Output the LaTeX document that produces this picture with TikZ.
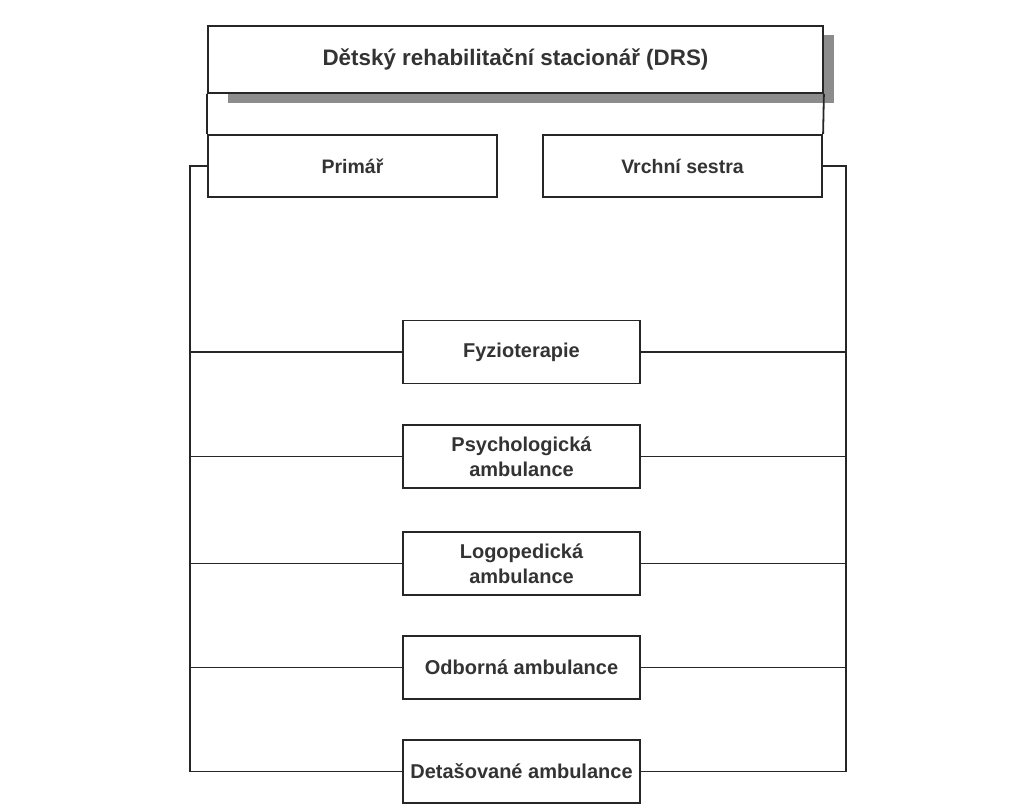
\documentclass[tikz,border=0pt]{standalone}
\usepackage{fontspec}
\setmainfont{Liberation Sans}
\begin{document}
\begin{tikzpicture}[x=1pt,y=-1pt,
  line/.style={draw=black!85, line width=1.8pt},
  topbox/.style={draw=black!85, line width=2.2pt, fill=white, rectangle, inner sep=0pt, font=\fontsize{19.5}{22}\selectfont\bfseries, text=black!80},
  unitbox/.style={draw=black!85, line width=1.8pt, fill=white, rectangle, inner sep=0pt, minimum width=237pt, minimum height=63pt, align=center, font=\fontsize{20}{25}\selectfont\bfseries, text=black!80},
  shadow/.style={fill=black!45, draw=none}]
\fill[white] (0,0) rectangle (1020,808);
\useasboundingbox (0,0) rectangle (1020,808);
% shadow of the top box
\fill[shadow] (823,35) rectangle (834,103);
\fill[shadow] (228,93) rectangle (834,103);
\node[topbox, minimum width=615pt, minimum height=67pt, line width=1.8pt, font=\fontsize{22.4}{26}\selectfont\bfseries] (drs) at (515.5,59.5) {Dětský rehabilitační stacionář (DRS)};
\node[topbox, minimum width=289pt, minimum height=62pt] (prim) at (352.5,166) {Primář};
\node[topbox, minimum width=279pt, minimum height=62pt] (vs) at (682.5,166) {Vrchní sestra};
\draw[line] (drs.south west) -- (prim.north west);
\draw[line] (drs.south east) -- (vs.north east);
% units
\node[unitbox] (fyz) at (521.5,352) {Fyzioterapie};
\node[unitbox] (psy) at (521.5,456.5) {Psychologická\\ambulance};
\node[unitbox] (log) at (521.5,563.5) {Logopedická\\ambulance};
\node[unitbox] (odb) at (521.5,667.5) {Odborná ambulance};
\node[unitbox] (det) at (521.5,771.5) {Detašované ambulance};
\coordinate (lb) at (190,166);
\coordinate (rb) at (846,166);
\draw[line] (prim.west) -- (lb) |- (det.west);
\draw[line] (vs.east) -- (rb) |- (det.east);
\foreach \n in {fyz,psy,log,odb}{
  \draw[line] (lb |- \n.west) -- (\n.west);
  \draw[line] (rb |- \n.east) -- (\n.east);
}
\end{tikzpicture}
\end{document}
